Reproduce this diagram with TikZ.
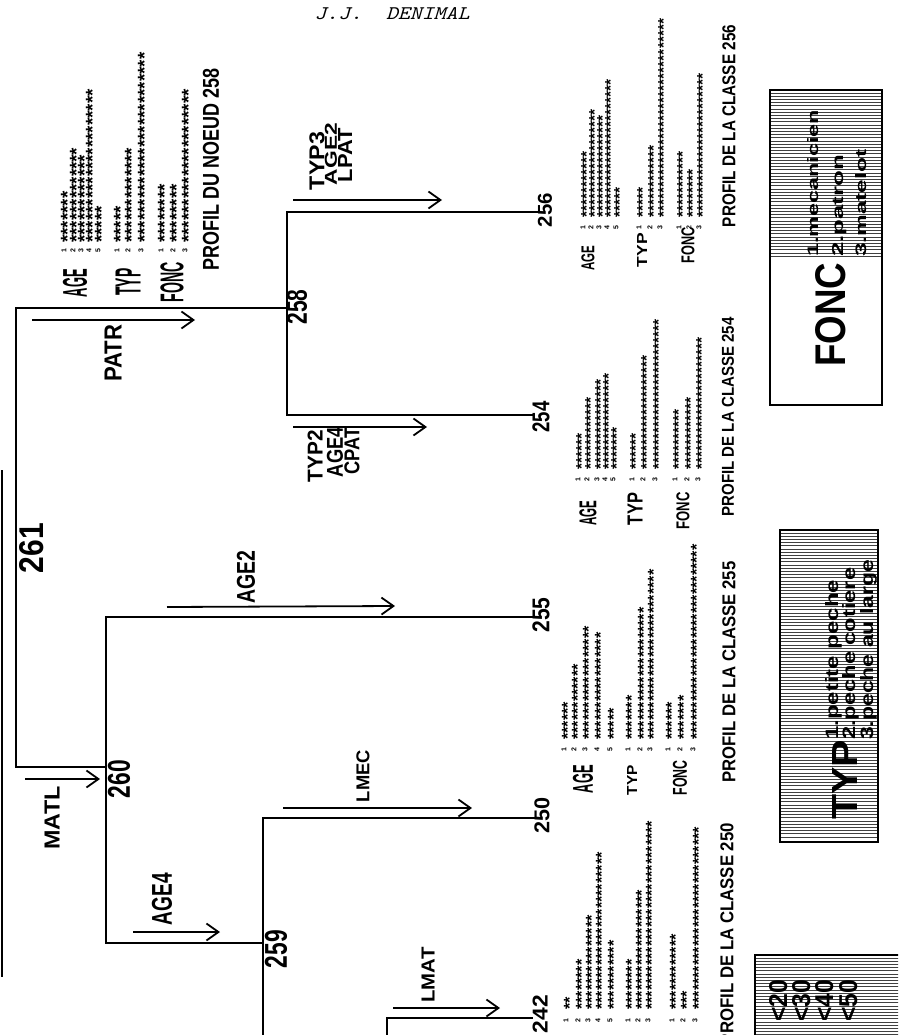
\documentclass[tikz,border=0pt]{standalone}
\usepackage{fontspec}
\usepackage{graphicx}
\usetikzlibrary{arrows.meta}
\newfontfamily\plotfont{Liberation Sans}
\def\stars#1{\ifnum#1>0 *\expandafter\stars\expandafter{\the\numexpr#1-1\relax}\fi}
\newcommand\rb[3]{\resizebox{#1pt}{#2pt}{#3}}
\newcommand\group[5]{%
  \foreach \xx/\nn [count=\ii] in {#5} {%
    \node[srow=#3] (#1s\ii) at ([xshift=3.5pt]\xx,#2) {\stars{\nn}};
    \node[dig=7] (#1d\ii) at (\xx,#4) {\ii};
  }}
\tikzset{
  br/.style={line width=2pt, line cap=rect},
  arr/.style={line width=1.8pt, -{Straight Barb[length=12pt,width=17pt,line width=1.8pt]}},
  lbl/.style={rotate=90, inner sep=0pt, font=\plotfont\bfseries},
  numr/.style={rotate=90, inner sep=0pt, font=\plotfont\bfseries},
  srow/.style={rotate=90, anchor=west, inner sep=0pt, font=\plotfont\bfseries\fontsize{#1}{#1}\selectfont},
  dig/.style={rotate=90, inner sep=0pt, font=\plotfont\bfseries\fontsize{#1}{#1}\selectfont},
  leg/.style={rotate=90, anchor=base west, inner sep=0pt, font=\plotfont\bfseries},
  hatch/.style={line width=0.9pt, black!75},
  frame/.style={line width=2.2pt},
}
\begin{document}
\begin{tikzpicture}[x=1pt,y=-1pt]
\useasboundingbox (0,0) rectangle (898,1035);
\fill[white] (0,0) rectangle (898,1035);
\clip (0,0) rectangle (898,1035);

% header
\node[font=\ttfamily\itshape, inner sep=0pt] (head) at (392,14) {\rb{155}{12}{J.J.\ \ DENIMAL}};

% page edge
\coordinate (e1) at (2,470);
\coordinate (e2) at (2,977);
\draw[line width=1.5pt] (e1) -- (e2);

% tree junctions
\coordinate (r1) at (16,308);
\coordinate (r2) at (16,767);
\coordinate (j258) at (287,308);
\coordinate (j258t) at (287,212);
\coordinate (j258b) at (287,415);
\coordinate (j260) at (106,767);
\coordinate (j260t) at (106,617);
\coordinate (j260b) at (106,943);
\coordinate (j259) at (263,943);
\coordinate (j259t) at (263,818);
\coordinate (j259b) at (263,1045);
\coordinate (j24x) at (387,1018);
\coordinate (j24xb) at (387,1045);

% node numbers
\node[lbl] (L258) at (297,307) {\rb{35}{20}{258}};
\node[numr] (L261) at (32,548) {\rb{50}{24}{261}};
\node[lbl] (L260) at (119,779) {\rb{38}{22}{260}};
\node[lbl] (L259) at (276,949) {\rb{38}{22}{259}};
\node[lbl] (L256) at (545,210) {\rb{34}{14}{256}};
\node[lbl] (L254) at (541,417) {\rb{31}{17}{254}};
\node[lbl] (L255) at (541,615) {\rb{35}{17}{255}};
\node[lbl] (L250) at (542,815) {\rb{36}{15}{250}};
\node[lbl] (L242) at (540,1014) {\rb{38}{15}{242}};

% tree
\draw[br] (r1) -- (r2);
\draw[br] (r1) -- (j258);
\draw[br] (j258t) -- (j258b);
\draw[br] (j258t) -- (j258t -| L256.north);
\draw[br] (j258b) -- (j258b -| L254.north);
\draw[br] (r2) -- (j260);
\draw[br] (j260t) -- (j260b);
\draw[br] (j260t) -- (j260t -| L255.north);
\draw[br] (j260b) -- (j259);
\draw[br] (j259t) -- (j259b);
\draw[br] (j259t) -- (j259t -| L250.north);
\draw[br] (j24x) -- (j24x -| L242.north);
\draw[br] (j24x) -- (j24xb);

% split arrows
\coordinate (aPs) at (32,320);   \coordinate (aPe) at (195,320);
\coordinate (a3s) at (293,200);  \coordinate (a3e) at (442,200);
\coordinate (a2s) at (293,427);  \coordinate (a2e) at (427,427);
\coordinate (aAs) at (167,607);  \coordinate (aAe) at (395,606);
\coordinate (aMs) at (25,779);   \coordinate (aMe) at (100,779);
\coordinate (a4s) at (133,932);  \coordinate (a4e) at (220,932);
\coordinate (aLs) at (283,808);  \coordinate (aLe) at (472,808);
\coordinate (aTs) at (393,1008); \coordinate (aTe) at (500,1008);
\draw[arr] (aPs) -- (aPe);
\draw[arr] (a3s) -- (a3e);
\draw[arr] (a2s) -- (a2e);
\draw[arr] (aAs) -- (aAe);
\draw[arr] (aMs) -- (aMe);
\draw[arr] (a4s) -- (a4e);
\draw[arr] (aLs) -- (aLe);
\draw[arr] (aTs) -- (aTe);

\node[lbl] (tPATR) at (113,353) {\rb{57}{17}{PATR}};
\node[lbl] (tTYP3) at (317,161) {\rb{58}{15}{TYP3}};
\node[lbl] (tAGE2a) at (331,154) {\rb{62}{12}{AGE2}};
\node[lbl] (tLPAT) at (345,155) {\rb{54}{14}{LPAT}};
\node[lbl] (tTYP2) at (315,456) {\rb{52}{15}{TYP2}};
\node[lbl] (tAGE4a) at (335,452) {\rb{50}{16}{AGE4}};
\node[lbl] (tCPAT) at (352,451) {\rb{47}{15}{CPAT}};
\node[lbl] (tAGE2) at (246,577) {\rb{53}{18}{AGE2}};
\node[lbl] (tMATL) at (52,818) {\rb{63}{15}{MATL}};
\node[lbl] (tAGE4) at (162,899) {\rb{52}{20}{AGE4}};
\node[lbl] (tLMEC) at (363,776) {\rb{52}{13}{LMEC}};
\node[lbl] (tLMAT) at (428,975) {\rb{55}{13}{LMAT}};

% ---- profile 258
\group{p258a}{243}{18.8}{251}{64/7,73/13,81/12,89/21,98/5}
\group{p258t}{243}{18.8}{251}{117/5,128/13,141/26}
\group{p258f}{243}{18.8}{251}{161/8,173/8,185/21}
\node[lbl] (p258A) at (75,283) {\rb{28}{24}{AGE}};
\node[lbl] (p258T) at (128,282) {\rb{27}{25}{TYP}};
\node[lbl] (p258F) at (172,282) {\rb{40}{23}{FONC}};
\node[lbl] (p258P) at (211,169) {\rb{202}{16}{PROFIL DU NOEUD 258}};

% ---- profile 256
\group{p256a}{218}{15.5}{228}{583/11,591/18,599/17,607/23,616/5}
\group{p256t}{218}{15.5}{228}{639/5,650/12,660/33}
\group{p256f}{218}{15.5}{228}{679/11,689/8,699/24}
\node[lbl] (p256A) at (588,258) {\rb{25}{13}{AGE}};
\node[lbl] (p256T) at (642,250) {\rb{34}{10}{TYP}};
\node[lbl] (p256F) at (688,245) {\rb{36}{13}{FONC}};
\node[lbl] (p256P) at (729,126) {\rb{202}{13}{PROFIL DE LA CLASSE 256}};

% ---- profile 254
\group{p254a}{470}{15.5}{480}{578/6,587/12,597/15,605/16,613/7}
\group{p254t}{470}{15.5}{480}{632/6,643/19,655/25}
\group{p254f}{470}{15.5}{480}{675/10,687/12,698/22}
\node[lbl] (p254A) at (588,513) {\rb{25}{17}{AGE}};
\node[lbl] (p254T) at (635,509) {\rb{32}{15}{TYP}};
\node[lbl] (p254F) at (683,511) {\rb{37}{13}{FONC}};
\node[lbl] (p254P) at (728,417) {\rb{199}{12}{PROFIL DE LA CLASSE 254}};

% ---- profile 255
\group{p255a}{740}{16.2}{750}{564/6,574/12,585/18,597/17,610/5}
\group{p255t}{740}{16.2}{750}{628/7,640/21,650/27}
\group{p255f}{740}{16.2}{750}{668/6,680/7,693/31}
\node[lbl] (p255A) at (583,779) {\rb{28}{20}{AGE}};
\node[lbl] (p255T) at (632,780) {\rb{30}{10}{TYP}};
\node[lbl] (p255F) at (680,778) {\rb{35}{14}{FONC}};
\node[lbl] (p255P) at (729,672) {\rb{221}{13}{PROFIL DE LA CLASSE 255}};

% ---- profile 250
\group{p250a}{1010}{16.2}{1021}{566/2,578/8,588/15,598/25,610/11}
\group{p250t}{1010}{16.2}{1021}{628/8,638/19,648/30}
\group{p250f}{1010}{16.2}{1021}{672/12,683/3,695/29}
\node[lbl] (p250P) at (727,934) {\rb{222}{13}{PROFIL DE LA CLASSE 250}};

% ---- legend FONC
\coordinate (fb1) at (770,90);
\coordinate (fb2) at (882,405);
\foreach \yy in {93,96.2,...,257} {\draw[hatch] (771,\yy) -- (881,\yy);}
\draw[frame] (fb1) rectangle (fb2);
\node[leg] (fBig) at (845,367) {\rb{104}{30}{FONC}};
\node[leg] (f1) at (818,257) {\rb{147}{11}{1.mecanicien}};
\node[leg] (f2) at (843,257) {\rb{102}{11}{2.patron}};
\node[leg] (f3) at (866,257) {\rb{107}{11}{3.matelot}};

% ---- legend TYP
\coordinate (tb1) at (780,530);
\coordinate (tb2) at (878,842);
\foreach \yy in {533,536.2,...,840} {\draw[hatch] (781,\yy) -- (877,\yy);}
\draw[frame] (tb1) rectangle (tb2);
\node[leg] (tBig) at (857,820) {\rb{80}{25}{TYP}};
\node[leg] (t1) at (838,740) {\rb{160}{13}{1.petite peche}};
\node[leg] (t2) at (855,740) {\rb{172}{13}{2.peche cotiere}};
\node[leg] (t3) at (873,740) {\rb{180}{13}{3.peche au large}};

% ---- legend AGE (cut)
\coordinate (ab1) at (755,955);
\coordinate (ab2) at (910,1050);
\foreach \yy in {958,961.2,...,1035} {\draw[hatch] (756,\yy) -- (900,\yy);}
\draw[frame] (ab1) rectangle (ab2);
\node[leg] (ag1) at (787,1022) {\rb{42}{18}{<20}};
\node[leg] (ag2) at (810,1022) {\rb{42}{18}{<30}};
\node[leg] (ag3) at (833,1022) {\rb{42}{18}{<40}};
\node[leg] (ag4) at (857,1022) {\rb{42}{18}{<50}};
\end{tikzpicture}
\end{document}
